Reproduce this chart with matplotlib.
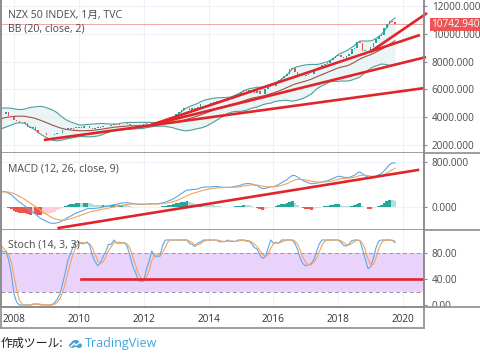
import numpy as np
import pandas as pd
import matplotlib
matplotlib.use("Agg")
import matplotlib.pyplot as plt
from matplotlib.patches import Rectangle, Polygon, Ellipse

plt.rcParams['font.family'] = ['Open Sans', 'Noto Sans CJK JP', 'DejaVu Sans']

# monthly closes, Jan 2005 .. Oct 2019
closes = [
    3050, 3100, 3080, 3000, 3050, 3150, 3200, 3180, 3250, 3150, 3200, 3300,   # 2005
    3350, 3400, 3450, 3500, 3400, 3450, 3550, 3700, 3800, 3900, 4000, 4100,   # 2006
    4150, 4200, 4250, 4350, 4400, 4350, 4300, 4200, 4250, 4350, 4100, 4050,   # 2007
    3800, 3700, 3650, 3650, 3550, 3300, 3250, 3300, 3100, 2900, 2850, 2850,   # 2008
    2750, 2700, 2700, 2800, 2850, 2900, 3050, 3100, 3200, 3150, 3250, 3300,   # 2009
    3250, 3250, 3350, 3400, 3250, 3150, 3250, 3250, 3300, 3400, 3350, 3400,   # 2010
    3450, 3500, 3450, 3550, 3600, 3550, 3500, 3450, 3400, 3450, 3400, 3450,   # 2011
    3500, 3550, 3550, 3600, 3500, 3550, 3650, 3700, 3800, 3900, 3950, 4100,   # 2012
    4250, 4400, 4500, 4650, 4700, 4500, 4650, 4600, 4750, 4950, 4950, 4950,   # 2013
    4950, 5050, 5100, 5150, 5100, 5150, 5200, 5350, 5300, 5500, 5600, 5650,   # 2014
    5800, 5950, 5900, 5950, 5850, 5750, 5900, 5650, 5700, 6050, 6200, 6350,   # 2015
    6250, 6450, 6700, 6850, 7000, 7100, 7450, 7550, 7250, 7000, 6950, 7000,   # 2016
    7050, 7100, 7150, 7400, 7550, 7600, 7750, 7850, 7900, 8150, 8250, 8400,   # 2017
    8500, 8350, 8300, 8450, 8550, 8900, 9000, 9400, 9350, 8800, 8850, 8850,   # 2018
    9050, 9350, 9650, 9850, 9950, 10400, 10700, 10950, 10900, 10742.94,       # 2019
]
last_price = 10742.94

# hand-drawn trend lines (year, value)
price_trends = [
    [(2008.92, 2360), (2020.65, 6100)],
    [(2012.22, 3440), (2020.52, 9930)],
    [(2012.22, 3440), (2020.71, 8340)],
    [(2018.98, 8700), (2020.74, 11510)],
]
macd_trend = [(2009.38, -373), (2020.46, 658)]
stoch_trend = [(2010.06, 40), (2020.58, 40)]

price_ticks = [2000, 4000, 6000, 8000, 10000, 12000]
macd_ticks = [0, 800]
stoch_ticks = [0, 40, 80]
year_ticks = [2008, 2010, 2012, 2014, 2016, 2018, 2020]

# ---- indicators
dates = pd.date_range("2005-01-01", periods=len(closes), freq="MS")
df = pd.DataFrame({"close": closes}, index=dates)
df["open"] = df["close"].shift(1).fillna(df["close"])
df["t"] = df.index.year + (df.index.month - 1) / 12.0

mid = df["close"].rolling(20).mean()
sd = df["close"].rolling(20).std(ddof=0)
df["bb_mid"], df["bb_up"], df["bb_lo"] = mid, mid + 2 * sd, mid - 2 * sd

ema12 = df["close"].ewm(span=12, adjust=False).mean()
ema26 = df["close"].ewm(span=26, adjust=False).mean()
df["macd"] = ema12 - ema26
df["signal"] = df["macd"].ewm(span=9, adjust=False).mean()
df["hist"] = df["macd"] - df["signal"]

hh = df["close"].rolling(14).max()
ll = df["close"].rolling(14).min()
raw = 100 * (df["close"] - ll) / (hh - ll)
df["k"] = raw.rolling(3).mean()
df["d"] = df["k"].rolling(3).mean()

d = df[df["t"] >= 2007.5]

# ---- layout (pixel based)
W, H = 480, 353
fig = plt.figure(figsize=(W / 100, H / 100), dpi=100)
fig.patch.set_facecolor("white")
x0, x1 = 1, 424


def panel(top, bottom):
    return fig.add_axes([x0 / W, 1 - bottom / H, (x1 - x0) / W, (bottom - top) / H])


ax = panel(0, 153)
axm = panel(153, 230)
axs = panel(230, 307)

grid_c = "#eef1f7"
txt_c = "#4a4a4a"
sep_c = "#8c8c8c"
red_line = "#e0242a"
xlim = (2007.6, 2020.646)

for a in (ax, axm, axs):
    a.set_xlim(*xlim)
    a.set_xticks(year_ticks)
    for yt in year_ticks:
        a.axvline(yt, color=grid_c, lw=0.8, zorder=0)
    a.yaxis.tick_right()
    a.tick_params(axis="y", length=2.5, width=0.8, color=sep_c, pad=3,
                  labelsize=7.2, labelcolor=txt_c)
    a.tick_params(axis="x", length=0, labelbottom=False)
    for s in a.spines.values():
        s.set_color(sep_c)
        s.set_linewidth(1.2)
    a.spines["top"].set_visible(False)

# ---- main price panel
ax.set_ylim(1423, 12450)
ax.set_yticks(price_ticks)
ax.set_yticklabels([f"{v}.000" for v in price_ticks])
for v in price_ticks:
    ax.axhline(v, color=grid_c, lw=0.8, zorder=0)

ax.fill_between(d["t"], d["bb_lo"], d["bb_up"], color="#e3f1f2", alpha=0.7, lw=0, zorder=1)
ax.plot(d["t"], d["bb_up"], color="#4f9e9e", lw=0.8, zorder=2)
ax.plot(d["t"], d["bb_lo"], color="#4f9e9e", lw=0.8, zorder=2)
ax.plot(d["t"], d["bb_mid"], color="#a0504a", lw=0.8, zorder=2)

up = d["close"] >= d["open"]
body_lo = np.minimum(d["open"], d["close"])
body_h = np.maximum((d["close"] - d["open"]).abs(), 25)
ax.bar(d["t"], body_h, bottom=body_lo, width=0.05,
       color=np.where(up, "#26a69a", "#ef5350"), lw=0, zorder=3)

ax.axhline(last_price, color="#f2a5a5", lw=0.7, zorder=2)
for seg in price_trends:
    (ta, va), (tb, vb) = seg
    ax.plot([ta, tb], [va, vb], color=red_line, lw=1.9, solid_capstyle="butt", zorder=5, clip_on=False)

ax.text(7 / (x1 - x0), 1 - 15 / 153, "NZX 50 INDEX, 1月, TVC", transform=ax.transAxes,
        fontsize=7.6, color=txt_c, va="center", ha="left")
ax.text(7 / (x1 - x0), 1 - 29 / 153, "BB (20, close, 2)", transform=ax.transAxes,
        fontsize=7.6, color=txt_c, va="center", ha="left")

# current price tag
ty = 1 - 24.5 / H
fig.patches.append(Rectangle((430 / W, ty - 6.5 / H), 50 / W, 13 / H, transform=fig.transFigure,
                             facecolor="#ec5455", edgecolor="none", zorder=10))
fig.text(455 / W, ty, f"{last_price:.3f}", color="white", fontsize=7.2,
         ha="center", va="center", zorder=11)

# ---- MACD panel
axm.set_ylim(-409, 960)
axm.set_yticks(macd_ticks)
axm.set_yticklabels([f"{v}.000" for v in macd_ticks])
for v in macd_ticks:
    axm.axhline(v, color=grid_c, lw=0.8, zorder=0)

h = d["hist"].values
hp = np.r_[h[0], h[:-1]]
hcol = np.where(h >= 0, np.where(h > hp, "#26a69a", "#b2dfdb"),
                np.where(h > hp, "#ffcdd2", "#ef5350"))
axm.bar(d["t"], h, width=1 / 12, color=hcol, lw=0, zorder=2)
axm.plot(d["t"], d["macd"], color="#5aa9e6", lw=0.8, zorder=3)
axm.plot(d["t"], d["signal"], color="#f4a35c", lw=0.8, zorder=3)
(ta, va), (tb, vb) = macd_trend
axm.plot([ta, tb], [va, vb], color=red_line, lw=1.9, zorder=5)
axm.text(7 / (x1 - x0), 1 - 16 / 77, "MACD (12, 26, close, 9)", transform=axm.transAxes,
         fontsize=7.6, color=txt_c, va="center", ha="left")

# ---- Stoch panel
axs.set_ylim(-3.1, 115.4)
axs.set_yticks(stoch_ticks)
axs.set_yticklabels([f"{v}.00" for v in stoch_ticks])
axs.axhspan(20, 80, color="#e9d3fb", lw=0, zorder=0)
for v in (20, 80):
    axs.axhline(v, color="#9a8fa6", lw=0.7, ls=(0, (4, 3)), zorder=1)
axs.plot(d["t"], d["k"], color="#5aa9e6", lw=0.8, zorder=3)
axs.plot(d["t"], d["d"], color="#f4a35c", lw=0.8, zorder=3)
(ta, va), (tb, vb) = stoch_trend
axs.plot([ta, tb], [va, vb], color=red_line, lw=1.9, zorder=5)
axs.text(7 / (x1 - x0), 1 - 15 / 77, "Stoch (14, 3, 3)", transform=axs.transAxes,
         fontsize=7.6, color=txt_c, va="center", ha="left")
axs.tick_params(axis="x", labelbottom=True, pad=5, labelsize=7.2, labelcolor="#333333")
axs.set_xticklabels([str(y) for y in year_ticks])

# cover below stoch on the right scale, plus borders
fig.patches.append(Rectangle((x1 / W, 1 - 328 / H), (W - x1) / W, 21 / H, transform=fig.transFigure,
                             facecolor="white", edgecolor="none", zorder=8))
for (xa, ya, xb, yb) in [(x0, 328, x1, 328), (x0, 307, W, 307), (x1, 0, x1, 328), (x0, 0, x0, 328),
                         (x1, 153, W, 153), (x1, 230, W, 230)]:
    fig.add_artist(plt.Line2D([xa / W, xb / W], [1 - ya / H, 1 - yb / H], color=sep_c, lw=1.2, zorder=9))

# ---- footer
fig.text(1 / W, 1 - 343 / H, "作成ツール:", fontsize=8.6, color="#222222", va="center", ha="left")
fig.text(85 / W, 1 - 343 / H, "TradingView", fontsize=9.0, color="#3fa4dc", va="center", ha="left")
lg = fig.add_axes([68 / W, 1 - 350 / H, 15 / W, 13 / H])
lg.set_xlim(0, 15)
lg.set_ylim(0, 13)
lg.axis("off")
lg.add_patch(Ellipse((7.5, 6.5), 9, 7, color="#3fa4dc", lw=0))
lg.add_patch(Ellipse((4, 4.5), 6, 5, color="#3fa4dc", lw=0))
lg.add_patch(Ellipse((11, 4.5), 6, 5, color="#3fa4dc", lw=0))
lg.add_patch(Polygon([(2.5, 3), (6, 6.5), (8, 4.8), (12.5, 8)], closed=False, fill=False,
                     edgecolor="white", lw=1.0))

fig.savefig("out.png", dpi=100, facecolor="white")
